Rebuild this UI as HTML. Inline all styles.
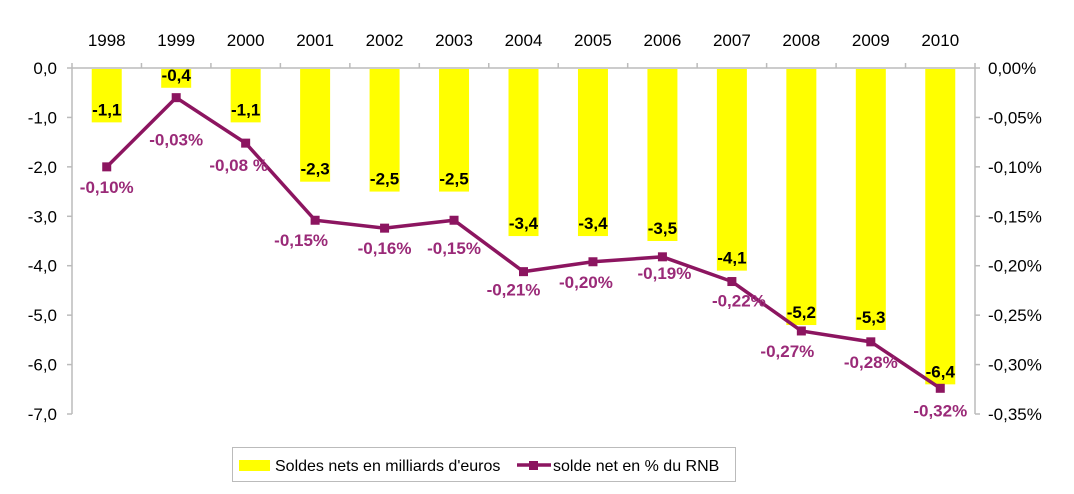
<!DOCTYPE html>
<html><head><meta charset="utf-8"><style>
body{margin:0;background:#fff;}
svg{display:block;font-family:"Liberation Sans",sans-serif;}
</style></head><body>
<svg id="c" width="1074" height="494"></svg>
<script>
const years=["1998","1999","2000","2001","2002","2003","2004","2005","2006","2007","2008","2009","2010"];
const barValues=[-1.1,-0.4,-1.1,-2.3,-2.5,-2.5,-3.4,-3.4,-3.5,-4.1,-5.2,-5.3,-6.4];
const barLabels=["-1,1","-0,4","-1,1","-2,3","-2,5","-2,5","-3,4","-3,4","-3,5","-4,1","-5,2","-5,3","-6,4"];
const pctValues=[-0.10,-0.03,-0.076,-0.154,-0.162,-0.154,-0.206,-0.196,-0.191,-0.216,-0.266,-0.277,-0.324];
const pctLabels=["-0,10%","-0,03%","-0,08 %","-0,15%","-0,16%","-0,15%","-0,21%","-0,20%","-0,19%","-0,22%","-0,27%","-0,28%","-0,32%"];
const leftTicks=[0,-1,-2,-3,-4,-5,-6,-7];
const leftTickLabels=["0,0","-1,0","-2,0","-3,0","-4,0","-5,0","-6,0","-7,0"];
const rightTicks=[0,-0.05,-0.10,-0.15,-0.20,-0.25,-0.30,-0.35];
const rightTickLabels=["0,00%","-0,05%","-0,10%","-0,15%","-0,20%","-0,25%","-0,30%","-0,35%"];
const labelOffsets=[[0,20],[0,42],[-7,22],[-14,20],[0,20],[0,28],[-10,18],[-7,20],[2,16],[7,19],[-14,20],[0,20],[0,22]];

const svg=document.getElementById('c');const NS="http://www.w3.org/2000/svg";
const X0=72,X1=975,Y0=68,Y1=414,cw=(X1-X0)/years.length;
const xc=i=>X0+cw*(i+0.5);
const yL=v=>Y0+(0-v)/7*(Y1-Y0);
const yR=v=>Y0+(0-v)/0.35*(Y1-Y0);
function el(t,a,txt){const e=document.createElementNS(NS,t);for(const k in a)e.setAttribute(k,a[k]);if(txt!==undefined)e.textContent=txt;svg.appendChild(e);return e;}
let e;
e=el('line',{x1:X0,y1:Y0,x2:X0,y2:Y1,stroke:'#bbb','stroke-width':1.5});

e=el('line',{x1:X1,y1:Y0,x2:X1,y2:Y1,stroke:'#bbb','stroke-width':1.5});

e=el('line',{x1:X0,y1:Y0,x2:X1,y2:Y0,stroke:'#bbb','stroke-width':1.5});

for(let i=0;i<=years.length;i++){e=el('line',{x1:X0+cw*i,y1:Y0-5,x2:X0+cw*i,y2:Y0,stroke:'#bbb','stroke-width':1.5});
}
leftTicks.forEach((v,i)=>{const y=yL(v);
e=el('line',{x1:X0-5,y1:y,x2:X0,y2:y,stroke:'#bbb','stroke-width':1.5});

e=el('text',{x:57,y:y+6,'text-anchor':'end','font-size':17,fill:'#000'},leftTickLabels[i]);
});
rightTicks.forEach((v,i)=>{const y=yR(v);
e=el('line',{x1:X1,y1:y,x2:X1+5,y2:y,stroke:'#bbb','stroke-width':1.5});

e=el('text',{x:988,y:y+6,'text-anchor':'start','font-size':17,fill:'#000'},rightTickLabels[i]);
});
years.forEach((yr,i)=>{
e=el('text',{x:xc(i),y:46,'text-anchor':'middle','font-size':17,fill:'#000'},yr);

const b=yL(barValues[i]);
e=el('rect',{x:xc(i)-15,y:Y0+1,width:30,height:b-Y0-1,fill:'#ffff00'});

e=el('text',{x:xc(i),y:b-7,'text-anchor':'middle','font-size':17,'font-weight':'bold',fill:'#000'},barLabels[i]);
});
e=el('polyline',{points:pctValues.map((v,i)=>xc(i)+','+yR(v)).join(' '),fill:'none',stroke:'#8c1560','stroke-width':3.5});

pctValues.forEach((v,i)=>{const x=xc(i),y=yR(v);
e=el('rect',{x:x-4.5,y:y-4.5,width:9,height:9,fill:'#8c1560'});

e=el('text',{x:x+labelOffsets[i][0],y:y+labelOffsets[i][1]+6,'text-anchor':'middle','font-size':17,'font-weight':'bold',fill:'#9a2a78'},pctLabels[i]);
});
e=el('rect',{x:232.5,y:447.5,width:503,height:34,fill:'#fff',stroke:'#bbb'});

e=el('rect',{x:239,y:460,width:31,height:11,fill:'#ffff00'});

e=el('text',{x:275,y:471,'font-size':16,fill:'#000'},"Soldes nets en milliards d'euros");

e=el('line',{x1:517,y1:465,x2:551,y2:465,stroke:'#8c1560','stroke-width':3.5});

e=el('rect',{x:529,y:461,width:9,height:9,fill:'#8c1560'});

e=el('text',{x:553,y:471,'font-size':16,fill:'#000'},"solde net en % du RNB");

</script></body></html>
